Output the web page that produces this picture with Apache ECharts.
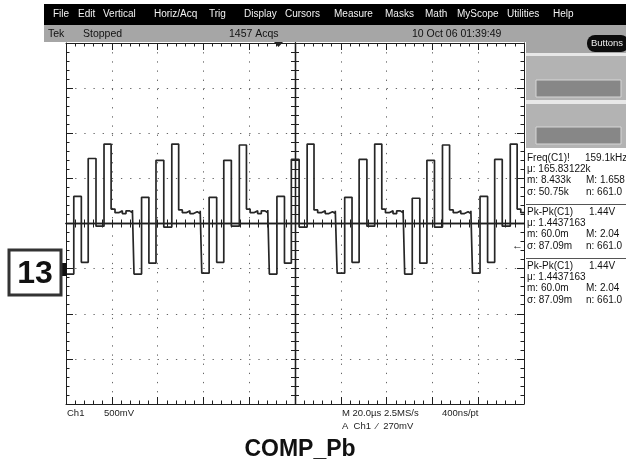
<!DOCTYPE html>
<html>
<head>
<meta charset="utf-8">
<script src="https://cdn.jsdelivr.net/npm/echarts@6/dist/echarts.min.js"></script>
<style>
  html, body { margin: 0; padding: 0; background: #fff; }
  #chart { width: 626px; height: 467px; }
</style>
</head>
<body>
<div id="chart"></div>
<script>
// Ch1 trace, 20us/div, 500mV/div (volts measured from the Ch1 ground marker)
// one row per burst: edge times (us) and the level held from that time on
const edgeTimes = [
  -100, -96.6, -93.3, -90.3, -86.9,
  -83.4, -80.3, -78.6, -77.0, -75.4, -73.8, -72.2, -71.0, -70.3, -67.0, -63.8, -60.7, -57.3,
  -53.8, -50.8, -49.2, -47.5, -45.9, -44.3, -42.7, -41.4, -40.7, -37.5, -34.2, -31.1, -27.8,
  -24.3, -21.2, -19.6, -18.0, -16.3, -14.7, -13.1, -11.9, -11.2, -7.9, -4.6, -1.6, 1.8,
  5.3, 8.3, 9.9, 11.5, 13.2, 14.8, 16.4, 17.6, 18.4, 21.7, 24.9, 28.0, 31.4,
  34.8, 37.9, 39.5, 41.1, 42.8, 44.4, 46.0, 47.2, 47.9, 51.2, 54.5, 57.6, 60.9,
  64.4, 67.5, 69.1, 70.7, 72.4, 74.0, 75.6, 76.8, 77.5, 80.8, 84.1, 87.2, 90.5,
  94.0, 97.0, 98.6, 100
];
const levels = [
  -0.06, 0.80, 0.07, 1.22, 0.47,
  1.38, 0.66, 0.62, 0.64, 0.61, 0.64, 0.62, 0.65, -0.06, 0.79, 0.06, 1.20, 0.46,
  1.38, 0.65, 0.62, 0.64, 0.61, 0.63, 0.61, 0.64, -0.05, 0.79, 0.07, 1.20, 0.47,
  1.37, 0.66, 0.62, 0.64, 0.61, 0.64, 0.62, 0.65, -0.06, 0.80, 0.06, 1.21, 0.46,
  1.38, 0.65, 0.62, 0.64, 0.61, 0.63, 0.61, 0.64, -0.05, 0.79, 0.07, 1.21, 0.47,
  1.38, 0.66, 0.62, 0.64, 0.61, 0.64, 0.62, 0.65, -0.06, 0.78, 0.06, 1.20, 0.46,
  1.37, 0.65, 0.62, 0.64, 0.61, 0.63, 0.61, 0.64, -0.05, 0.80, 0.07, 1.21, 0.47,
  1.38, 0.66, 0.62, 0.62
];

const menuItems = ['File', 'Edit', 'Vertical', 'Horiz/Acq', 'Trig', 'Display', 'Cursors',
  'Measure', 'Masks', 'Math', 'MyScope', 'Utilities', 'Help'];
const menuLeft = [53, 78, 103, 154, 209, 244, 285, 334, 385, 425, 457, 507, 553];

const measBlocks = [
  [['Freq(C1)!', '159.1kHz'], ['\u03bc: 165.83122k', ''], ['m: 8.433k', 'M: 1.658'], ['\u03c3: 50.75k', 'n: 661.0']],
  [['Pk-Pk(C1)', '1.44V'], ['\u03bc: 1.4437163', ''], ['m: 60.0m', 'M: 2.04'], ['\u03c3: 87.09m', 'n: 661.0']],
  [['Pk-Pk(C1)', '1.44V'], ['\u03bc: 1.4437163', ''], ['m: 60.0m', 'M: 2.04'], ['\u03c3: 87.09m', 'n: 661.0']]
];

const FONT = '"Liberation Sans", Arial, sans-serif';
const ink = '#1e1e1e';

function axis(pos, min, max, interval, extra) {
  return Object.assign({
    type: 'value', position: pos, min: min, max: max, interval: interval,
    axisLine: { show: true, onZero: false, lineStyle: { color: ink, width: 1 } },
    axisTick: { show: true, inside: true, length: 7, lineStyle: { color: ink } },
    minorTick: { show: true, splitNumber: 5, length: 3.5, lineStyle: { color: ink } },
    axisLabel: { show: false },
    splitLine: { show: false }
  }, extra || {});
}

const dotted = { show: true, lineStyle: { color: '#666', width: 1, type: [1.3, 7.86] } };
const centreTick = { show: true, inside: true, length: 4, lineStyle: { color: ink } };
const centreMinor = { show: true, splitNumber: 5, length: 4, lineStyle: { color: ink } };
const onZeroLine = idx => ({ show: true, onZero: true, onZeroAxisIndex: idx, lineStyle: { color: ink, width: 1.3 } });

const chart = echarts.init(document.getElementById('chart'));

const graphics = [];
// menu bar
graphics.push({ type: 'rect', shape: { x: 44, y: 4, width: 582, height: 21 }, style: { fill: '#000' }, silent: true });
menuItems.forEach((m, i) => {
  graphics.push({ type: 'text', x: menuLeft[i], y: 14,
    style: { text: m, fill: '#f2f2f2', font: '10px ' + FONT, textVerticalAlign: 'middle' } });
});
// status bar
graphics.push({ type: 'rect', shape: { x: 44, y: 25, width: 582, height: 17 }, style: { fill: '#a6a6a6' } });
[['Tek', 48], ['Stopped', 83], ['1457 Acqs', 229], ['10 Oct 06 01:39:49', 412]].forEach(s => {
  graphics.push({ type: 'text', x: s[1], y: 34,
    style: { text: s[0], fill: '#111', font: '10.5px ' + FONT, textVerticalAlign: 'middle' } });
});
graphics.push({ type: 'polygon', shape: { points: [[274, 42], [283, 42], [278.5, 47]] }, style: { fill: '#222' }, z: 20 });
// right side panel
graphics.push({ type: 'rect', shape: { x: 526, y: 42, width: 100, height: 106 }, style: { fill: '#a6a6a6' } });
graphics.push({ type: 'rect', shape: { x: 587, y: 35, width: 42, height: 17, r: 8 }, style: { fill: '#0c0c0c' } });
graphics.push({ type: 'text', x: 607, y: 43.5,
  style: { text: 'Buttons', fill: '#eee', font: '9.5px ' + FONT, textAlign: 'center', textVerticalAlign: 'middle' } });
graphics.push({ type: 'rect', shape: { x: 526, y: 53, width: 100, height: 3 }, style: { fill: '#e8e8e8' } });
graphics.push({ type: 'rect', shape: { x: 526, y: 100, width: 100, height: 4 }, style: { fill: '#e8e8e8' } });
graphics.push({ type: 'rect', shape: { x: 526, y: 56, width: 100, height: 44 }, style: { fill: '#b3b3b3' } });
graphics.push({ type: 'rect', shape: { x: 526, y: 104, width: 100, height: 44 }, style: { fill: '#b3b3b3' } });
[80, 127].forEach(y => {
  graphics.push({ type: 'rect', shape: { x: 536, y: y, width: 85, height: 17 },
    style: { fill: '#878787', stroke: '#d6d6d6', lineWidth: 1 } });
});
// measurement readouts
measBlocks.forEach((blk, b) => {
  const top = 158 + b * 54;
  blk.forEach((row, r) => {
    const y = top + r * 11.3;
    graphics.push({ type: 'text', x: 527, y: y,
      style: { text: row[0], fill: '#111', font: '10px ' + FONT, textVerticalAlign: 'middle' } });
    if (row[1]) {
      graphics.push({ type: 'text', x: r === 0 ? (b === 0 ? 585 : 589) : 586, y: y,
        style: { text: row[1], fill: '#111', font: '10px ' + FONT, textVerticalAlign: 'middle' } });
    }
  });
  if (b > 0) {
    graphics.push({ type: 'rect', shape: { x: 526, y: top - 8, width: 100, height: 1 }, style: { fill: '#555' } });
  }
});
// trigger level arrow, ground marker
graphics.push({ type: 'text', x: 512, y: 246,
  style: { text: '\u2190', fill: '#111', font: '11px ' + FONT, textVerticalAlign: 'middle' }, z: 20 });
graphics.push({ type: 'rect', shape: { x: 61, y: 263, width: 6, height: 13 }, style: { fill: '#111' }, z: 20 });
// "13" callout
graphics.push({ type: 'rect', shape: { x: 9, y: 250, width: 52, height: 45 },
  style: { fill: '#fff', stroke: '#333', lineWidth: 3 }, z: 20 });
graphics.push({ type: 'text', x: 35, y: 274,
  style: { text: '13', fill: '#111', font: 'bold 32px ' + FONT, textAlign: 'center', textVerticalAlign: 'middle' }, z: 21 });
// bottom readouts
[['Ch1', 67, 413], ['500mV', 104, 413], ['M 20.0\u00b5s 2.5MS/s', 342, 413], ['400ns/pt', 442, 413],
 ['A  Ch1  \u2044  270mV', 342, 426]].forEach(s => {
  graphics.push({ type: 'text', x: s[1], y: s[2],
    style: { text: s[0], fill: '#222', font: '9.5px ' + FONT, textVerticalAlign: 'middle' } });
});
graphics.push({ type: 'text', x: 300, y: 450,
  style: { text: 'COMP_Pb', fill: '#111', font: 'bold 23px ' + FONT, textAlign: 'center', textVerticalAlign: 'middle' } });

chart.setOption({
  animation: false,
  backgroundColor: '#fff',
  grid: { left: 66, top: 43, width: 458, height: 361, containLabel: false },
  xAxis: [
    axis('bottom', -100, 100, 20, { splitLine: dotted }),
    axis('top', -100, 100, 20),
    axis('bottom', -100, 100, 20, { axisLine: onZeroLine(4), axisTick: centreTick, minorTick: centreMinor }),
    axis('top', -100, 100, 20, { axisLine: onZeroLine(4), axisTick: centreTick, minorTick: centreMinor })
  ],
  yAxis: [
    axis('left', -1.5, 2.5, 0.5, { splitLine: dotted }),
    axis('right', -1.5, 2.5, 0.5),
    axis('left', -1.5, 2.5, 0.5, { axisLine: onZeroLine(0), axisTick: centreTick, minorTick: centreMinor }),
    axis('right', -1.5, 2.5, 0.5, { axisLine: onZeroLine(0), axisTick: centreTick, minorTick: centreMinor }),
    { type: 'value', position: 'left', min: -4, max: 4, show: false, axisLine: { onZero: false } }
  ],
  series: [{
    type: 'line',
    step: 'end',
    xAxisIndex: 0,
    yAxisIndex: 0,
    data: edgeTimes.map((t, i) => [t, levels[i]]),
    symbol: 'none',
    lineStyle: { color: '#262626', width: 1.7 },
    z: 5
  }],
  graphic: graphics
});
</script>
</body>
</html>
